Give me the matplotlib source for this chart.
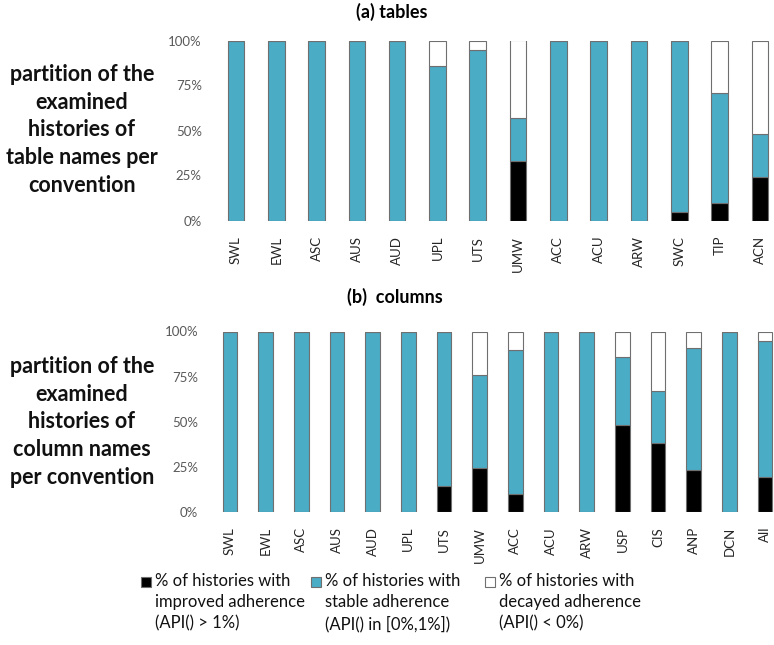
import matplotlib
matplotlib.use("Agg")
import matplotlib.pyplot as plt
from matplotlib.patches import Rectangle
from matplotlib.ticker import FuncFormatter

plt.rcParams['font.family'] = ['Lato', 'DejaVu Sans']

# (a) tables
tables_cats = ["SWL", "EWL", "ASC", "AUS", "AUD", "UPL", "UTS", "UMW",
               "ACC", "ACU", "ARW", "SWC", "TIP", "ACN"]
tables_improved = [0, 0, 0, 0, 0, 0, 0, 33, 0, 0, 0, 5, 10, 24]
tables_stable = [100, 100, 100, 100, 100, 86, 95, 24, 100, 100, 100, 95, 61, 24]
tables_decayed = [0, 0, 0, 0, 0, 14, 5, 43, 0, 0, 0, 0, 29, 52]

# (b) columns
columns_cats = ["SWL", "EWL", "ASC", "AUS", "AUD", "UPL", "UTS", "UMW",
                "ACC", "ACU", "ARW", "USP", "CIS", "ANP", "DCN", "All"]
columns_improved = [0, 0, 0, 0, 0, 0, 14, 24, 10, 0, 0, 48, 38, 23, 0, 19]
columns_stable = [100, 100, 100, 100, 100, 100, 86, 52, 80, 100, 100, 38, 29, 68, 100, 76]
columns_decayed = [0, 0, 0, 0, 0, 0, 0, 24, 10, 0, 0, 14, 33, 9, 0, 5]

yticks = [0, 25, 50, 75, 100]
legend_labels = ["% of histories with\nimproved adherence\n(API() > 1%)",
                 "% of histories with\nstable adherence\n(API() in [0%,1%])",
                 "% of histories with\ndecayed adherence\n(API() < 0%)"]

BLACK = "#000000"
BLUE = "#4bacc6"
WHITE = "#ffffff"
EDGE = "#6f6f6f"
W, H = 774, 645


def draw(ax, cats, imp, stab, dec, width):
    x = list(range(len(cats)))
    ax.bar(x, imp, width, color=BLACK, edgecolor=EDGE, linewidth=0.8)
    ax.bar(x, stab, width, bottom=imp, color=BLUE, edgecolor=EDGE, linewidth=0.8)
    bottoms = [a + b for a, b in zip(imp, stab)]
    ax.bar(x, dec, width, bottom=bottoms, color=WHITE, edgecolor=EDGE, linewidth=0.8)
    ax.set_xlim(-0.5, len(cats) - 0.5)
    ax.set_ylim(0, 100)
    ax.set_yticks(yticks)
    ax.yaxis.set_major_formatter(FuncFormatter(lambda v, p: f"{v:.0f}%"))
    ax.set_xticks(x)
    ax.set_xticklabels(cats, rotation=90, fontsize=9.5, color="#262626")
    ax.tick_params(axis="y", length=0, labelsize=9.5, labelcolor="#595959", pad=10)
    ax.tick_params(axis="x", length=0, pad=11)
    for s in ax.spines.values():
        s.set_visible(False)


fig = plt.figure(figsize=(W / 100, H / 100), dpi=100)

ax1 = fig.add_axes([215.8 / W, 1 - 220.5 / H, (780 - 215.8) / W, 180 / H])
draw(ax1, tables_cats, tables_improved, tables_stable, tables_decayed, 0.41)

ax2 = fig.add_axes([212 / W, 1 - 511.7 / H, (783 - 212) / W, 180.2 / H])
draw(ax2, columns_cats, columns_improved, columns_stable, columns_decayed, 0.41)

fig.text(392 / W, 1 - 12 / H, "(a) tables", ha="center", va="center",
         fontsize=13, fontweight="bold")
fig.text(395 / W, 1 - 297 / H, "(b)  columns", ha="center", va="center",
         fontsize=13, fontweight="bold")

fig.text(82 / W, 1 - 130 / H,
         "partition of the\nexamined\nhistories of\ntable names per\nconvention",
         ha="center", va="center", fontsize=15.5, fontweight="bold",
         linespacing=1.4, color="#111111")
fig.text(82 / W, 1 - 422 / H,
         "partition of the\nexamined\nhistories of\ncolumn names\nper convention",
         ha="center", va="center", fontsize=15.5, fontweight="bold",
         linespacing=1.4, color="#111111")

# legend
for sx, tx, col, lab in zip([141, 311, 485], [155, 325, 499],
                            [BLACK, BLUE, WHITE], legend_labels):
    fig.patches.append(Rectangle((sx / W, 1 - 587 / H), 10 / W, 10 / H,
                                 transform=fig.transFigure, facecolor=col,
                                 edgecolor=EDGE, linewidth=0.8))
    fig.text(tx / W, 1 - 573 / H, lab, ha="left", va="top", fontsize=12,
             linespacing=1.4, color="#111111")

fig.savefig("out.png", dpi=100)
